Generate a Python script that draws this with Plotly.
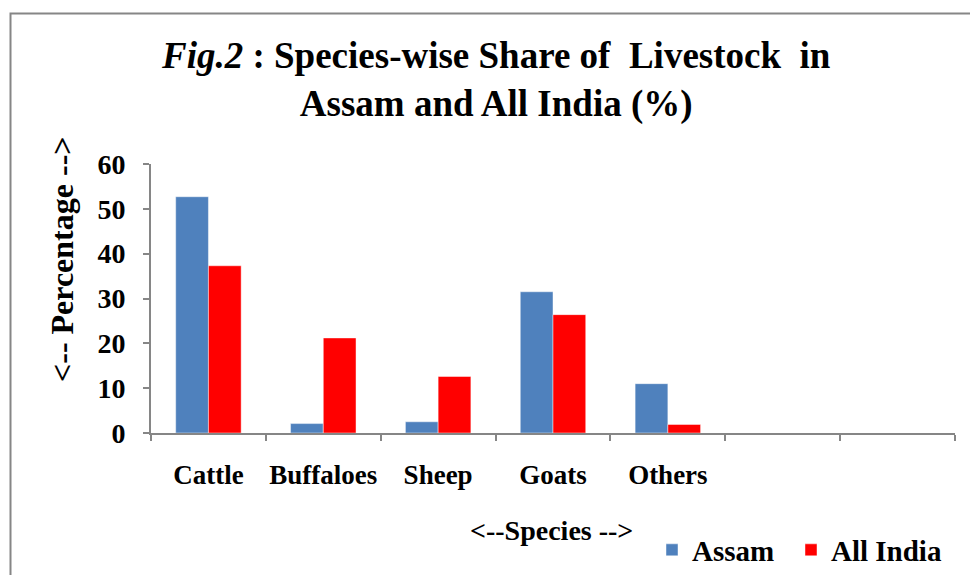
import plotly.graph_objects as go

categories = ["Cattle", "Buffaloes", "Sheep", "Goats", "Others", " ", "  "]
assam = [52.7, 2.1, 2.5, 31.5, 11.0, None, None]
all_india = [37.3, 21.2, 12.6, 26.4, 1.9, None, None]
y_ticks = [0, 10, 20, 30, 40, 50, 60]

W, H = 970, 575
L, R, T, B = 151, 15, 164, 142
PW, PH = W - L - R, H - T - B

def px(x):
    return (x - L) / PW

def py(y):
    return (H - B - y) / PH

FONT = "Liberation Serif"
GRAY = "#868686"
LEGEND_FONT = dict(size=29, family=FONT, color="black", weight="bold")

fig = go.Figure()
fig.add_trace(go.Bar(x=categories, y=assam, name="Assam", legend="legend",
                     marker=dict(color="#4F81BD", line=dict(color="rgba(255,255,255,0.45)", width=1))))
fig.add_trace(go.Bar(x=categories, y=all_india, name="All India", legend="legend2",
                     marker=dict(color="#FF0000", line=dict(color="rgba(255,255,255,0.45)", width=1))))

fig.update_layout(
    width=W, height=H,
    margin=dict(l=L, r=R, t=T, b=B, autoexpand=False),
    paper_bgcolor="white", plot_bgcolor="white",
    font=dict(family=FONT, color="black"),
    barmode="group", bargap=0.43, bargroupgap=0,
    showlegend=True,
    legend=dict(orientation="h", x=px(652), xanchor="left", y=py(550), yanchor="middle",
                font=LEGEND_FONT, itemwidth=30, bgcolor="rgba(0,0,0,0)"),
    legend2=dict(orientation="h", x=px(791), xanchor="left", y=py(550), yanchor="middle",
                 font=LEGEND_FONT, itemwidth=30, bgcolor="rgba(0,0,0,0)"),
    xaxis=dict(type="category", categoryorder="array", categoryarray=categories,
               range=[-0.5, len(categories) - 0.5], tickson="boundaries",
               showline=True, linecolor=GRAY, linewidth=2,
               ticks="outside", ticklen=6, tickcolor=GRAY, tickwidth=2, tickangle=0,
               tickfont=dict(size=27, family=FONT, color="black", weight="bold"),
               ticklabelstandoff=17, showgrid=False, zeroline=False, fixedrange=True),
    yaxis=dict(range=[0, 60], tickvals=y_ticks, showline=True, linecolor=GRAY, linewidth=2,
               ticks="outside", ticklen=6, tickcolor=GRAY, tickwidth=2,
               tickfont=dict(size=28, family=FONT, color="black", weight="bold"),
               ticklabelstandoff=12, showgrid=False, zeroline=False),
    shapes=[dict(type="rect", xref="paper", yref="paper",
                 x0=px(10.5), x1=px(990), y0=py(600), y1=py(13.5),
                 line=dict(color=GRAY, width=2), fillcolor="rgba(0,0,0,0)", layer="below")],
    annotations=[
        dict(text="<i>Fig.2</i> : Species-wise Share of \u00a0Livestock \u00a0in<br>Assam and All India (%)",
             xref="paper", yref="paper", x=px(496), y=py(80), xanchor="center", yanchor="middle",
             showarrow=False, font=dict(size=37, family=FONT, color="black", weight="bold")),
        dict(text="<-- Percentage -->", textangle=-90,
             xref="paper", yref="paper", x=px(62), y=py(259), xanchor="center", yanchor="middle",
             showarrow=False, font=dict(size=32, family=FONT, color="black", weight="bold")),
        dict(text="<--Species -->",
             xref="paper", yref="paper", x=px(551.5), y=py(530), xanchor="center", yanchor="middle",
             showarrow=False, font=dict(size=28, family=FONT, color="black", weight="bold")),
    ],
)

fig.write_html("out.html")
